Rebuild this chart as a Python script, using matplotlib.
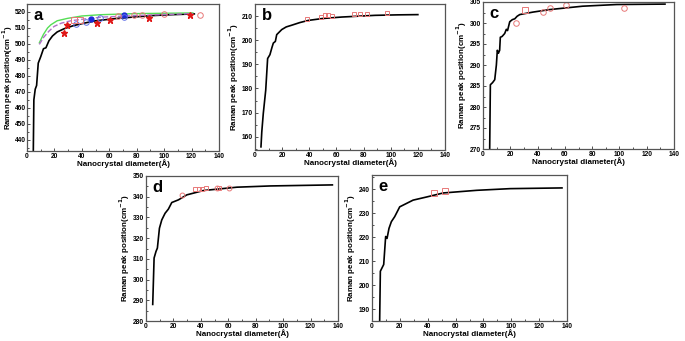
import numpy as np
import matplotlib.pyplot as plt
from matplotlib.ticker import MultipleLocator

plt.rcParams['font.family'] = ['Liberation Sans', 'DejaVu Sans']
plt.rcParams['font.weight'] = 'bold'

# ---- panel a ----
a_fit_x = [4.6, 5.0, 6.0, 7.0, 8.2, 10.0, 12.0, 13.8, 16.0, 18.6, 22.0, 27.0, 34.0, 41.6, 50.0, 66.0, 80.0, 90.0, 105.0, 122.0]
a_fit_y = [433, 465, 471.7, 474, 488, 492, 497, 497.6, 502, 505, 507.5, 509.5, 511.5, 513, 514.5, 516, 517, 517.7, 518.3, 518.8]
a_green_x = [9, 12, 15, 17.4, 22, 29.5, 40, 53.7, 80, 100, 121]
a_green_y = [500.7, 506, 510, 512, 514.5, 516, 517.5, 518.3, 519, 519.2, 519.4]
a_dash_x = [9, 12, 16, 19.8, 25, 32, 41.6, 55, 78, 100, 121]
a_dash_y = [499.7, 504, 508, 511, 513, 514.5, 515.6, 516.8, 517.7, 518.4, 519]
a_star_x = [27, 29, 50.8, 60.4, 88.7, 119]
a_star_y = [507, 512.1, 513.2, 515.2, 516.3, 518.3]
a_bdot_x = [46.9, 71]
a_bdot_y = [515.9, 517.9]
a_bopen_x = [35.8, 42.8, 53, 71]
a_bopen_y = [512.7, 513.6, 516.3, 516.9]
a_sq_x = [34.5, 38.3]
a_sq_y = [514.8, 515.2]
a_circ_x = [66, 78, 84, 100, 126]
a_circ_y = [517.3, 517.9, 517.9, 518.8, 518.3]

# ---- panel b ----
b_fit_x = [4.4, 5.0, 6.1, 7.9, 9.3, 11.0, 12.5, 13.5, 15.0, 16.0, 19.7, 23.0, 27.0, 33.0, 39.3, 50.0, 64.0, 88.5, 105.0, 120.0]
b_fit_y = [155.8, 162, 169.6, 179.3, 192.4, 194, 197, 198.8, 199.5, 202.3, 204.4, 205.5, 206.2, 207.3, 208.2, 209.0, 209.6, 210.3, 210.5, 210.6]
b_sq_x = [38, 48.6, 51.6, 54, 57, 73, 77.4, 82.3, 97]
b_sq_y = [208.9, 209.8, 210.4, 210.3, 210.0, 210.7, 210.7, 210.7, 211.3]

# ---- panel c ----
c_fit_x = [4.9, 5.4, 7.0, 8.6, 9.8, 10.5, 11.3, 12.2, 12.7, 14.0, 15.9, 17.1, 18.0, 19.6, 21.5, 23.3, 25.0, 26.9, 30.0, 36.7, 49.0, 73.0, 98.0, 133.4]
c_fit_y = [270, 285.3, 285.8, 286.5, 290, 293.5, 292.8, 293.5, 296.6, 296.8, 297.5, 298.5, 298.2, 300.3, 300.8, 301.0, 301.6, 302.0, 302.2, 302.6, 303.2, 304.0, 304.4, 304.5]
c_circ_x = [24.5, 44, 49, 61, 103]
c_circ_y = [300.0, 302.6, 303.6, 304.2, 303.6]
c_sq_x = [30.6]
c_sq_y = [303.1]

# ---- panel d ----
d_fit_x = [4.9, 5.9, 7.3, 8.3, 9.8, 11.5, 13.9, 16.3, 18.8, 23.7, 29.8, 42.0, 66.3, 90.7, 135.9]
d_fit_y = [288, 310.4, 313.6, 315.2, 324.8, 328.8, 332.0, 334.0, 337.2, 338.5, 340.9, 343.0, 344.6, 345.2, 345.7]
d_circ_x = [26.1, 51.7, 60.2]
d_circ_y = [341.0, 344.2, 344.4]
d_sq_x = [35.9, 38.3, 40.7, 43.7, 53.4]
d_sq_y = [343.6, 343.9, 343.9, 344.2, 344.4]

# ---- panel e ----
e_fit_x = [5.5, 6.0, 8.4, 9.8, 10.8, 12.2, 13.9, 16.3, 19.9, 24.7, 29.5, 39.1, 51.2, 75.2, 99.2, 136.4]
e_fit_y = [185, 205.8, 208.6, 220.3, 219.5, 223.7, 226.5, 228.6, 232.7, 234.1, 235.5, 236.8, 238.5, 239.6, 240.3, 240.6]
e_sq_x = [44.4, 52.4]
e_sq_y = [238.5, 239.2]

W, H = 685, 341
fig = plt.figure(figsize=(W / 100, H / 100), dpi=100)


def make_ax(left, top, right, bottom):
    return fig.add_axes([left / W, 1 - bottom / H, (right - left) / W, (bottom - top) / H])


def style(ax, letter, ylim, ystep):
    ax.set_xlim(0, 140)
    ax.set_ylim(*ylim)
    ax.xaxis.set_major_locator(MultipleLocator(20))
    ax.xaxis.set_minor_locator(MultipleLocator(10))
    ax.yaxis.set_major_locator(MultipleLocator(ystep))
    ax.yaxis.set_minor_locator(MultipleLocator(ystep / 2))
    ax.tick_params(which='both', direction='in', labelsize=4.8, width=0.6, colors='#333333')
    ax.tick_params(which='major', length=2.5, pad=1.5)
    ax.tick_params(which='minor', length=1.5)
    for lab in ax.get_xticklabels() + ax.get_yticklabels():
        lab.set_fontweight('bold')
        lab.set_color('black')
    for sp in ax.spines.values():
        sp.set_color('#555555')
        sp.set_linewidth(0.9)
    ax.set_xlabel('Nanocrystal diameter(Å)', fontsize=5.8, fontweight='bold', labelpad=-0.5)
    ax.set_ylabel('Raman peak position(cm$^{-1}$)', fontsize=5.8, fontweight='bold', labelpad=0.5)
    ax.text(0.035, 0.97, letter, transform=ax.transAxes, fontsize=12, fontweight='bold', va='top', ha='left')


open_red = dict(ls='none', mfc='none', mec='#e87878', mew=0.7)

ax = make_ax(27, 4, 219, 151)
ax.plot(a_fit_x, a_fit_y, color='black', lw=1.2)
ax.plot(a_green_x, a_green_y, color='#55dd55', lw=1.0)
ax.plot(a_dash_x, a_dash_y, color='#b070c8', lw=1.0, ls='--')
ax.plot(a_star_x, a_star_y, ls='none', marker='*', ms=4.5, color='#e01818')
ax.plot(a_bdot_x, a_bdot_y, ls='none', marker='o', ms=3.5, color='#1a2ad8')
ax.plot(a_bopen_x, a_bopen_y, ls='none', marker='o', ms=4, mfc='none', mec='#6070e8', mew=0.7)
ax.plot(a_sq_x, a_sq_y, marker='s', ms=4, **open_red)
ax.plot(a_circ_x, a_circ_y, marker='o', ms=4, **open_red)
style(ax, 'a', (433, 525), 10)
ax.tick_params(axis='y', which='major', pad=1.0)
ax.yaxis.label.set_fontsize(5.6)
ax.yaxis.set_label_coords(-0.065, 0.5)

ax = make_ax(255, 4, 445, 150)
ax.plot(b_fit_x, b_fit_y, color='black', lw=1.2)
ax.plot(b_sq_x, b_sq_y, marker='s', ms=3.5, **open_red)
style(ax, 'b', (154.5, 215), 10)

ax = make_ax(483, 2, 674, 149)
ax.plot(c_fit_x, c_fit_y, color='black', lw=1.2)
ax.plot(c_circ_x, c_circ_y, marker='o', ms=4, **open_red)
ax.plot(c_sq_x, c_sq_y, marker='s', ms=4, **open_red)
style(ax, 'c', (270, 305), 5)

ax = make_ax(146, 176, 338, 321)
ax.plot(d_fit_x, d_fit_y, color='black', lw=1.2)
ax.plot(d_circ_x, d_circ_y, marker='o', ms=3.5, **open_red)
ax.plot(d_sq_x, d_sq_y, marker='s', ms=3.5, **open_red)
style(ax, 'd', (280, 350), 10)

ax = make_ax(372, 175, 567, 321)
ax.plot(e_fit_x, e_fit_y, color='black', lw=1.2)
ax.plot(e_sq_x, e_sq_y, marker='s', ms=4.5, **open_red)
style(ax, 'e', (185, 246), 10)

fig.savefig('out.png', dpi=100)
